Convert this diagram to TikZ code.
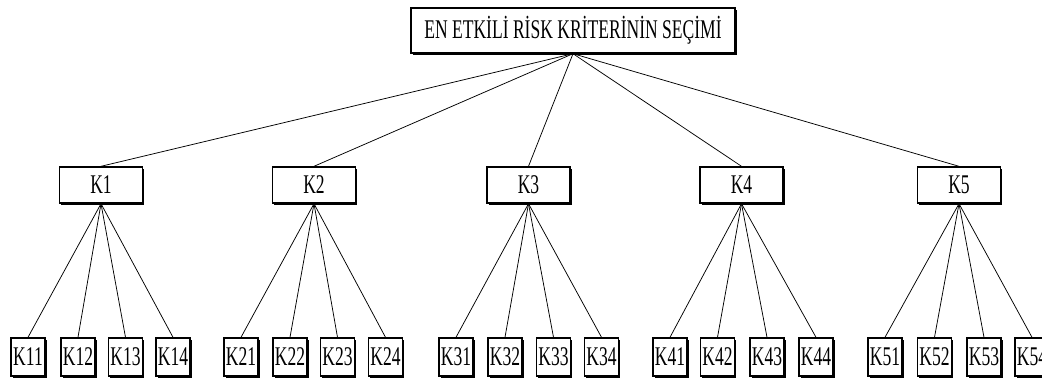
\documentclass[tikz,border=0pt]{standalone}
\usepackage{fontspec}
\setmainfont{Liberation Serif}
\usetikzlibrary{shadows}
\tikzset{
  box/.style={draw, fill=white, line width=1.4pt, inner sep=0pt,
    font=\fontsize{27}{30}\selectfont,
    drop shadow={shadow xshift=1.6pt, shadow yshift=-1.6pt, opacity=1, fill=black}},
  rootbox/.style={box, minimum width=324pt, minimum height=45pt},
  midbox/.style={box, minimum width=83pt, minimum height=36pt},
  leafbox/.style={box, minimum width=34pt, minimum height=38pt},
  link/.style={line width=0.75pt}
}
\newcommand{\narrow}[1]{\scalebox{0.65}[1]{#1}}
\begin{document}
\begin{tikzpicture}[x=1pt, y=-1pt]
  \useasboundingbox (0,0) rectangle (1042,378);
  \node[rootbox] (root) at (573,30.5) {\narrow{EN ETKİLİ RİSK KRİTERİNİN SEÇİMİ}};
  % second level
  \foreach \i/\x in {1/101, 2/314, 3/528.5, 4/741.5, 5/959} {
    \node[midbox] (k\i) at (\x,185) {\narrow{K\i}};
    \draw[link] (root.south) -- (k\i.north);
  }
  % third level
  \foreach \p/\a/\b/\c/\d in {1/28/78/125.5/173, 2/241/290/337.5/385.5,
      3/456/505/553.5/601.5, 4/670/717.5/767/816, 5/885/934.5/984/1032} {
    \foreach \j/\x in {1/\a, 2/\b, 3/\c, 4/\d} {
      \node[leafbox] (k\p\j) at (\x,357) {\narrow{K\p\j}};
      \draw[link] (k\p.south) -- (k\p\j.north);
    }
  }
\end{tikzpicture}
\end{document}
